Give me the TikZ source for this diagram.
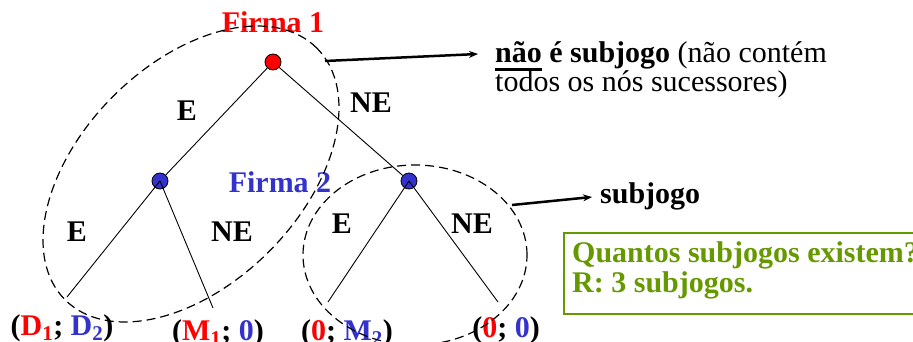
\documentclass[tikz,border=0pt]{standalone}
\usepackage{fontspec}
\setmainfont{Liberation Serif}
\usetikzlibrary{arrows.meta,positioning}

\definecolor{fred}{RGB}{255,0,0}
\definecolor{fblue}{RGB}{51,51,204}
\definecolor{fgreen}{RGB}{102,153,0}

\newsavebox{\ulbox}
\newcommand{\thickul}[1]{\sbox{\ulbox}{#1}\rlap{\rule[-8.5pt]{\wd\ulbox}{3pt}}\usebox{\ulbox}}

\tikzset{
  dec/.style={circle, draw, line width=0.8pt, minimum size=16pt, inner sep=0pt},
  lbl/.style={font=\fontsize{30}{34}\selectfont\bfseries, anchor=base, inner sep=0pt},
  txt/.style={font=\fontsize{30}{34}\selectfont, anchor=base west, inner sep=0pt},
  subg/.style={dash pattern=on 9pt off 5pt, line width=1.2pt},
  callout/.style={->, line width=2.5pt},
}

\begin{document}
\begin{tikzpicture}[x=1pt, y=-1pt, >={Stealth[length=9pt,width=7pt]}]
\useasboundingbox (0,0) rectangle (913,342);

% decision nodes
\node[dec, fill=fred] (f1) at (273,62) {};
\node[dec, fill=fblue] (f2l) at (160,181) {};
\node[dec, fill=fblue] (f2r) at (409,181) {};
\coordinate (ll) at (67,297);
\coordinate (lr) at (213,308);
\coordinate (rl) at (328,302);
\coordinate (rr) at (498,302);

\draw[line width=0.9pt] (f1) -- (f2l);
\draw[line width=0.9pt] (f1) -- (f2r);
\draw[line width=0.9pt] (f2l.center) -- (ll);
\draw[line width=0.9pt] (f2l.center) -- (lr);
\draw[line width=0.9pt] (f2r.center) -- (rl);
\draw[line width=0.9pt] (f2r.center) -- (rr);

% players and actions
\node[lbl, text=fred] (p1) at (273,33) {Firma 1};
\node[lbl, text=fblue] (p2) at (280,193) {Firma 2};
\node[lbl] (e1) at (187,121) {E};
\node[lbl] (ne1) at (371,113) {NE};
\node[lbl] (e2) at (77,241) {E};
\node[lbl] (ne2) at (232,241) {NE};
\node[lbl] (e3) at (342,233) {E};
\node[lbl] (ne3) at (472,233) {NE};

% payoffs
\node[lbl] (pDD) at (62,335) {(\textcolor{fred}{D\textsubscript{1}}; \textcolor{fblue}{D\textsubscript{2}})};
\node[lbl] (pM1) at (218,340) {(\textcolor{fred}{M\textsubscript{1}}; \textcolor{fblue}{0})};
\node[lbl] (pM2) at (347,340) {(\textcolor{fred}{0}; \textcolor{fblue}{M\textsubscript{2}})};
\node[lbl] (p00) at (506,337) {(\textcolor{fred}{0}; \textcolor{fblue}{0})};

% subgames
\draw[subg, rotate around={45:(191,174)}] (191,174) ellipse [x radius=178pt, y radius=110pt];
\draw[subg] (415,255) ellipse [x radius=112pt, y radius=90pt];

% notes
\coordinate (a1) at (325,61);
\coordinate (a1e) at (478,54);
\draw[callout] (a1) -- (a1e);
\node[txt] (nao1) at (495,63) {\textbf{\thickul{não} é subjogo} (não contém};
\node[txt] (nao2) at (495,92) {todos os nós sucessores)};

\coordinate (a2) at (512,205);
\coordinate (a2e) at (592,197);
\draw[callout] (a2) -- (a2e);
\node[lbl, anchor=base west] (sj) at (600,203) {subjogo};

\node[draw=fgreen, line width=1.5pt, minimum width=360pt, minimum height=81pt,
      anchor=north west, inner sep=0pt] (qbox) at (563,232) {};
\node[lbl, anchor=base west, text=fgreen] (q1) at (572,262) {Quantos subjogos existem?};
\node[lbl, anchor=base west, text=fgreen] (q2) at (572,292) {R: 3 subjogos.};
\end{tikzpicture}
\end{document}
